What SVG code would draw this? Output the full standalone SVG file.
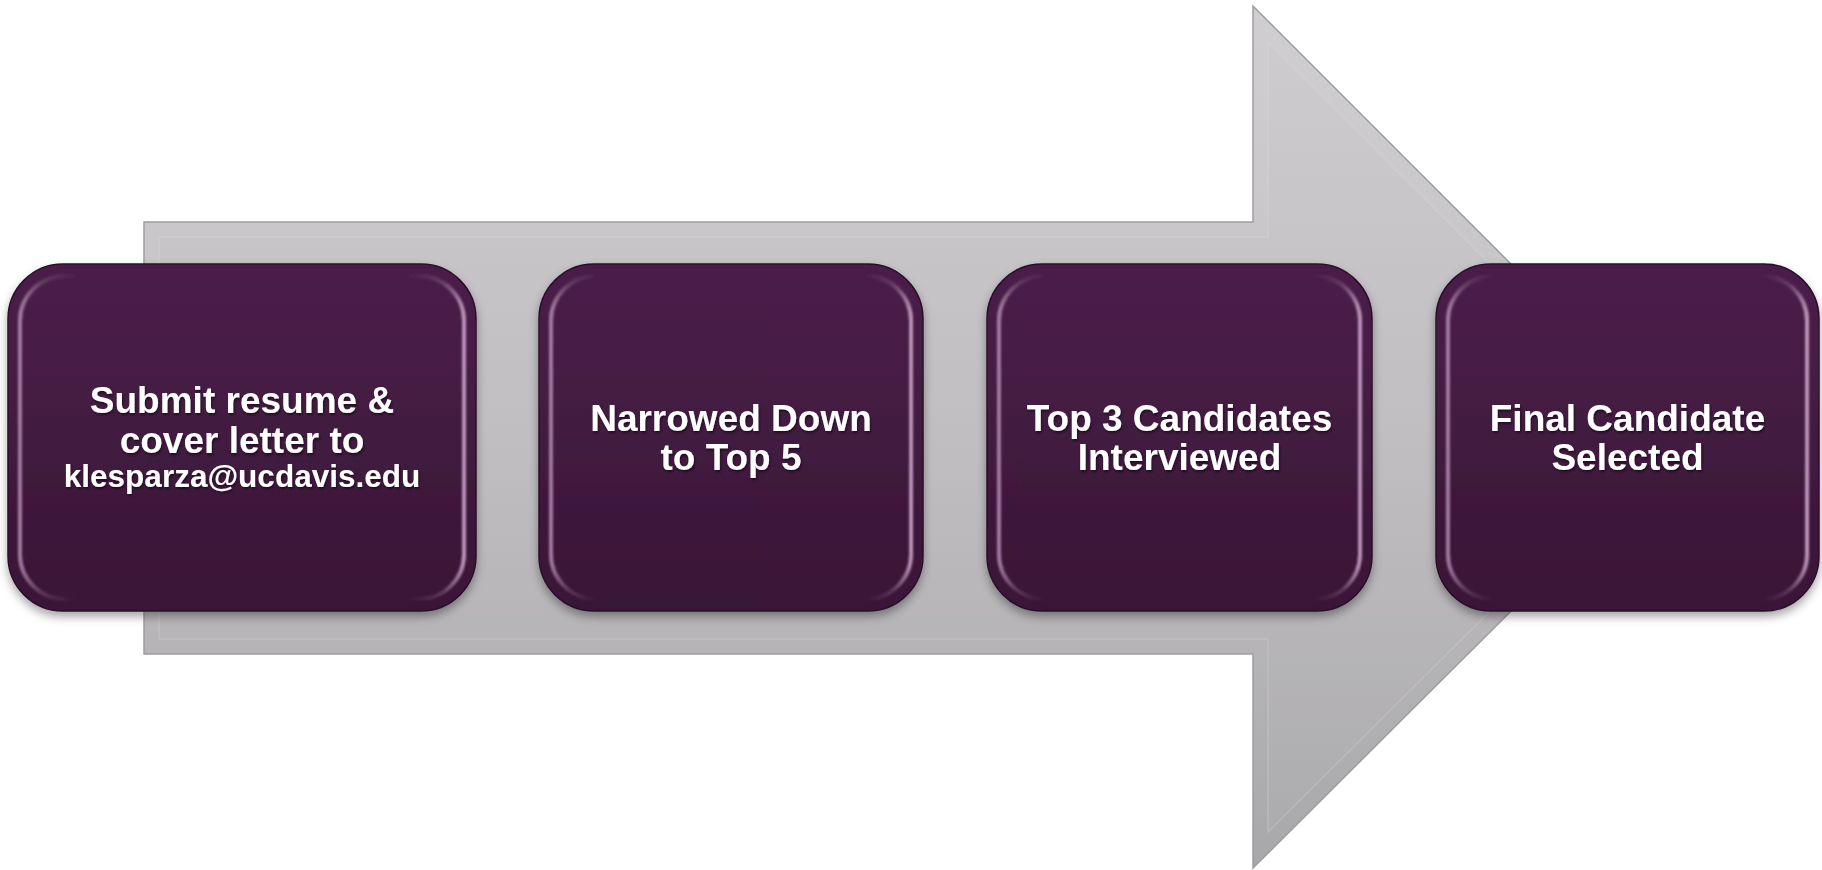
<svg xmlns="http://www.w3.org/2000/svg" width="1822" height="870" viewBox="0 0 1822 870">
  <defs>
    <linearGradient id="arrowFill" x1="0" y1="0" x2="0" y2="1">
      <stop offset="0" stop-color="#d0ced1"/>
      <stop offset="0.5" stop-color="#c2c0c3"/>
      <stop offset="1" stop-color="#a8a7a9"/>
    </linearGradient>
    <linearGradient id="arrowInner" x1="0" y1="0" x2="0" y2="1">
      <stop offset="0" stop-color="#cdcbce"/>
      <stop offset="0.5" stop-color="#c0bec1"/>
      <stop offset="1" stop-color="#acabad"/>
    </linearGradient>
    <linearGradient id="boxFill" x1="0" y1="0" x2="0" y2="1">
      <stop offset="0" stop-color="#4b1f4a"/>
      <stop offset="1" stop-color="#391636"/>
    </linearGradient>
    <linearGradient id="bevel" x1="0" y1="0" x2="1" y2="0">
      <stop offset="0" stop-color="#b58db5" stop-opacity="0.85"/>
      <stop offset="0.05" stop-color="#9a709a" stop-opacity="0.35"/>
      <stop offset="0.13" stop-color="#7a4d78" stop-opacity="0"/>
      <stop offset="0.87" stop-color="#7a4d78" stop-opacity="0"/>
      <stop offset="0.95" stop-color="#9a709a" stop-opacity="0.35"/>
      <stop offset="1" stop-color="#c9a3c9" stop-opacity="0.9"/>
    </linearGradient>
    <filter id="shadow" x="-10%" y="-10%" width="120%" height="125%">
      <feDropShadow dx="0" dy="5" stdDeviation="5" flood-color="#000" flood-opacity="0.35"/>
    </filter>
    <filter id="soft" x="-5%" y="-5%" width="110%" height="110%">
      <feGaussianBlur stdDeviation="1"/>
    </filter>
    <filter id="tshadow" x="-10%" y="-30%" width="120%" height="160%">
      <feDropShadow dx="1" dy="2" stdDeviation="1" flood-color="#000" flood-opacity="0.5"/>
    </filter>
  </defs>
  <style>
    .box { fill: url(#boxFill); stroke: #2c0f2a; stroke-width: 1.5; }
    .bev { fill: none; stroke: url(#bevel); stroke-width: 4; filter: url(#soft); }
    .lbl { font-family: "Liberation Sans", Arial, sans-serif; font-weight: bold; font-size: 37px; fill: #ffffff; text-anchor: middle; }
    .small { font-size: 31.5px; }
  </style>
  <rect width="1822" height="870" fill="#ffffff"/>

  <g id="connectors">
    <polygon points="144,222 1253,222 1253,6 1685,438 1253,868 1253,654 144,654" fill="url(#arrowFill)" stroke="#9e9d9f" stroke-width="1.5"/>
    <polygon points="159,237 1268,237 1268,42 1664,438 1268,832 1268,639 159,639" fill="url(#arrowInner)" stroke="#e0dee1" stroke-opacity="0.25" stroke-width="1.5"/>
  </g>

  <g id="node1" filter="url(#shadow)">
    <rect class="box" x="8" y="264" width="468" height="347" rx="55" ry="55"/>
    <rect class="bev" x="20" y="276" width="444" height="323" rx="45" ry="45"/>
    <g filter="url(#tshadow)">
      <text class="lbl" x="242" y="413">Submit resume &amp;</text>
      <text class="lbl" x="242" y="453">cover letter to</text>
      <text class="lbl small" x="242" y="487">klesparza@ucdavis.edu</text>
    </g>
  </g>

  <g id="node2" filter="url(#shadow)">
    <rect class="box" x="539" y="264" width="384" height="347" rx="55" ry="55"/>
    <rect class="bev" x="551" y="276" width="360" height="323" rx="45" ry="45"/>
    <g filter="url(#tshadow)">
      <text class="lbl" x="731" y="431">Narrowed Down</text>
      <text class="lbl" x="731" y="470">to Top 5</text>
    </g>
  </g>

  <g id="node3" filter="url(#shadow)">
    <rect class="box" x="987" y="264" width="385" height="347" rx="55" ry="55"/>
    <rect class="bev" x="999" y="276" width="361" height="323" rx="45" ry="45"/>
    <g filter="url(#tshadow)">
      <text class="lbl" x="1179.5" y="431">Top 3 Candidates</text>
      <text class="lbl" x="1179.5" y="470">Interviewed</text>
    </g>
  </g>

  <g id="node4" filter="url(#shadow)">
    <rect class="box" x="1436" y="264" width="383" height="347" rx="55" ry="55"/>
    <rect class="bev" x="1448" y="276" width="359" height="323" rx="45" ry="45"/>
    <g filter="url(#tshadow)">
      <text class="lbl" x="1627.5" y="431">Final Candidate</text>
      <text class="lbl" x="1627.5" y="470">Selected</text>
    </g>
  </g>
</svg>
